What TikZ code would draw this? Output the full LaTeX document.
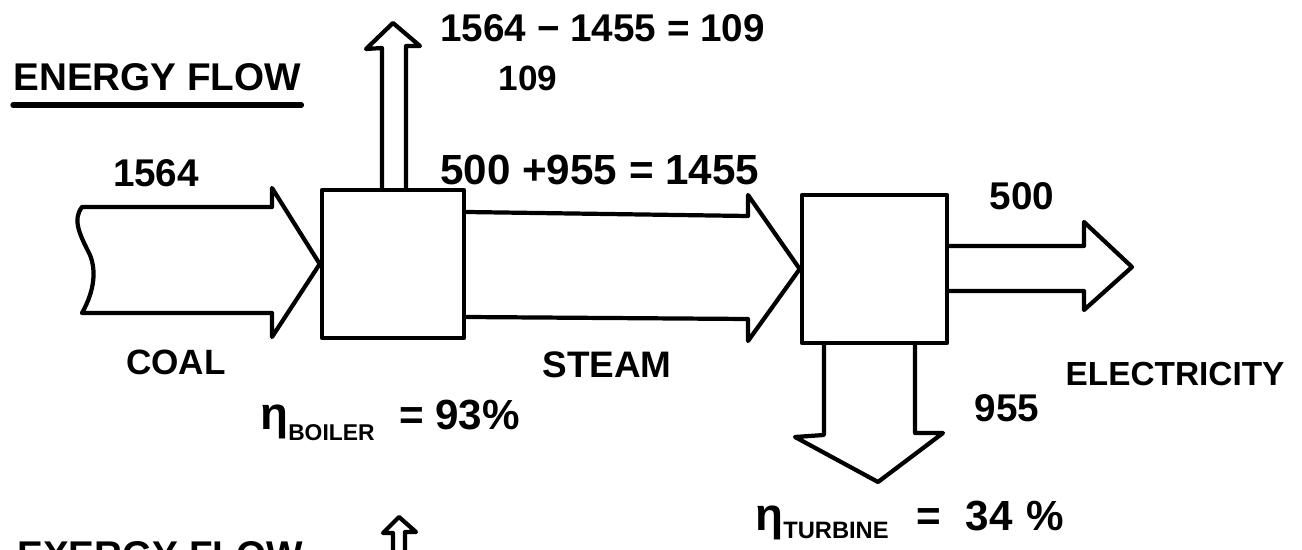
\documentclass[tikz,border=0pt]{standalone}
\usepackage{fontspec}
\setmainfont{Liberation Sans}
\begin{document}
\begin{tikzpicture}[x=0.02cm,y=-0.02cm, line join=round, line cap=round,
  box/.style={draw, rectangle, inner sep=0pt, line width=2.6pt},
  flow/.style={draw, line width=2.4pt},
  lbl/.style={inner sep=0pt, font=\bfseries}]
\useasboundingbox (0,0) rectangle (1302,550);
\clip (0,0) rectangle (1302,550);

% boxes
\node[box, minimum width=2.84cm, minimum height=2.96cm] (boiler) at (393,264) {};
\node[box, minimum width=2.9cm, minimum height=2.96cm] (turbine) at (874.5,269) {};

% coal arrow
\draw[flow] (82,207) -- (272,207) -- (272,188) -- (boiler.west) -- (272,337) -- (272,313) -- (82,313)
  .. controls (95,290) and (96,270) .. (90,255) .. controls (80,235) and (72,220) .. (82,207);
% steam arrow
\draw[flow] (boiler.east |- 0,212) -- (748,216) -- (748,195) -- (turbine.west) -- (748,341) -- (748,319) -- (boiler.east |- 0,317);
% electricity arrow
\draw[flow] (turbine.east |- 0,246) -- (1084,246) -- (1084,222) -- (1132,267) -- (1084,310) -- (1084,291) -- (turbine.east |- 0,291);
% turbine loss arrow
\draw[flow] (824,343) -- (824,435) -- (795,437) -- (878,482) -- (943,433) -- (915,433) -- (915,343);
% boiler loss arrow
\draw[flow] (382,190) -- (382,48) -- (366,49) -- (393,23) -- (420,46) -- (406,46) -- (406,190);
% small arrow (exergy)
\draw[flow] (393,560) -- (393,533) -- (383,533) -- (399,517) -- (416,532) -- (405,532) -- (405,560);

% labels
\node[lbl, anchor=west, font=\bfseries\fontsize{22}{24}\selectfont] (title) at (13,77) {ENERGY FLOW};
\draw[line width=3pt] ([yshift=-8pt]title.south west) -- ([yshift=-8pt]title.south east);
\node[lbl, anchor=west, font=\bfseries\fontsize{22}{24}\selectfont] (loss1) at (440,28) {1564 − 1455 = 109};
\node[lbl, font=\bfseries\fontsize{20}{22}\selectfont] (loss2) at (528,78) {109};
\node[lbl, font=\bfseries\fontsize{22}{24}\selectfont] (coalv) at (156,173) {1564};
\node[lbl, anchor=west, font=\bfseries\fontsize{24}{26}\selectfont] (steamv) at (440,170) {500 +955 = 1455};
\node[lbl, font=\bfseries\fontsize{20}{22}\selectfont] (coal) at (176,362) {COAL};
\node[lbl, font=\bfseries\fontsize{21}{23}\selectfont] (steam) at (607,365) {STEAM};
\node[lbl, font=\bfseries\fontsize{22}{24}\selectfont] (elv) at (1022,196) {500};
\node[lbl, font=\bfseries\fontsize{19}{21}\selectfont] (elec) at (1175,374) {ELECTRICITY};
\node[lbl, font=\bfseries\fontsize{22}{24}\selectfont] (tloss) at (1007,408) {955};
\node[lbl, anchor=base west] (etab) at (260,430)
  {\fontsize{26}{28}\selectfont η\raisebox{-6pt}{\fontsize{13}{14}\selectfont BOILER}\hspace{14pt}\fontsize{24}{26}\selectfont= 93\%};
\node[lbl, anchor=base west] (etat) at (755,530)
  {\fontsize{26}{28}\selectfont η\raisebox{-5pt}{\fontsize{13.5}{14}\selectfont TURBINE}\hspace{16pt}\fontsize{24}{26}\selectfont=\hspace{14pt}34\hspace{8pt}\%};
\node[lbl, anchor=base west, font=\bfseries\fontsize{22}{24}\selectfont] (exergy) at (17,568) {EXERGY FLOW};
\end{tikzpicture}
\end{document}
